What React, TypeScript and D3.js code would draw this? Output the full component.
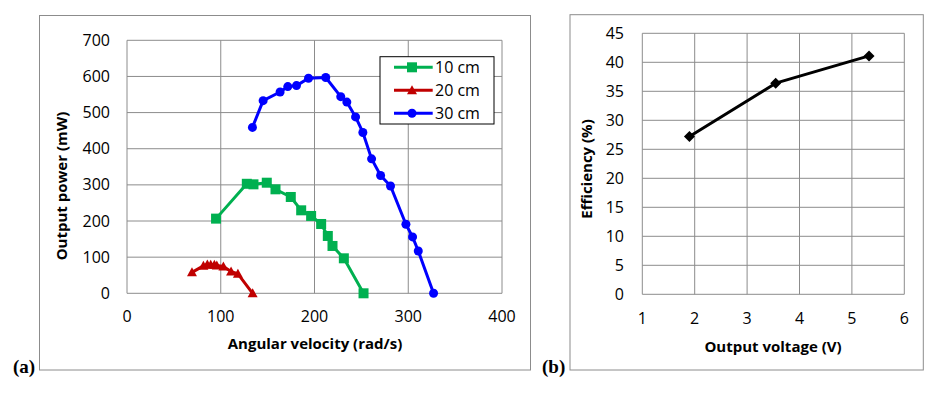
import React from "react";
import * as d3 from "d3";

// ---- Data ----
const seriesNames = ["10 cm", "20 cm", "30 cm"];
const seriesColors = ["#00B050", "#C00000", "#0000FF"];
const seriesMarkers = ["square", "triangle", "circle"];

const speed10 = [95, 127.8, 134.9, 149.1, 158.4, 174.7, 185.8, 196.4, 207.1, 214.2, 219.2, 231.3, 252.3];
const power10 = [206.6, 303, 301.5, 306, 287.7, 266.5, 229.6, 214, 191.8, 158.6, 131, 96.8, 0];

const speed20 = [69.3, 81.5, 85.7, 89.3, 93.2, 95.8, 102.8, 111, 118.3, 134];
const power20 = [58, 76, 80, 79, 79, 77, 74, 60, 54, 0];

const speed30 = [133.8, 145.2, 163.3, 171.5, 180.8, 193.6, 212, 228, 234.5, 243.8, 251.6, 260.9, 270.5, 281.1, 297.5, 304.6, 310.7, 327];
const power30 = [459, 533, 557, 572, 574.6, 595, 597, 544, 529, 488, 445, 372, 326, 297, 191, 156, 117, 0];

const voltage = [1.9, 3.546, 5.327];
const efficiency = [27.2, 36.4, 41.1];

const xTicksA = [0, 100, 200, 300, 400];
const yTicksA = [0, 100, 200, 300, 400, 500, 600, 700];
const xTicksB = [1, 2, 3, 4, 5, 6];
const yTicksB = [0, 5, 10, 15, 20, 25, 30, 35, 40, 45];

const FONT = "'Open Sans', 'DejaVu Sans', sans-serif";
const GRID = "#8c8c8c";

function Marker({ type, x, y, color }: { type: string; x: number; y: number; color: string }) {
  if (type === "square") return <rect x={x - 5} y={y - 5} width={10} height={10} fill={color} />;
  if (type === "triangle") {
    const p = d3.path();
    p.moveTo(x, y - 5);
    p.lineTo(x + 5, y + 4);
    p.lineTo(x - 5, y + 4);
    p.closePath();
    return <path d={p.toString()} fill={color} />;
  }
  if (type === "diamond") {
    const p = d3.path();
    p.moveTo(x, y - 5.5);
    p.lineTo(x + 5.5, y);
    p.lineTo(x, y + 5.5);
    p.lineTo(x - 5.5, y);
    p.closePath();
    return <path d={p.toString()} fill={color} />;
  }
  return <circle cx={x} cy={y} r={4.5} fill={color} />;
}

export default function App() {
  // Chart (a)
  const xA = d3.scaleLinear().domain([0, 400]).range([127, 502]);
  const yA = d3.scaleLinear().domain([0, 700]).range([293.3, 40.3]);
  const seriesA = [
    { xs: speed10, ys: power10 },
    { xs: speed20, ys: power20 },
    { xs: speed30, ys: power30 },
  ];
  const lineA = d3
    .line<[number, number]>()
    .x((d) => xA(d[0]))
    .y((d) => yA(d[1]));

  // Chart (b)
  const xB = d3.scaleLinear().domain([1, 6]).range([642.3, 904.3]);
  const yB = d3.scaleLinear().domain([0, 45]).range([294.3, 33.3]);
  const lineB = d3
    .line<[number, number]>()
    .x((d) => xB(d[0]))
    .y((d) => yB(d[1]));
  const ptsB: [number, number][] = voltage.map((v, i) => [v, efficiency[i]]);

  return (
    <svg
      width={941}
      height={393}
      style={{ position: "absolute", left: 0, top: 0, background: "#fff" }}
      fontFamily={FONT}
    >
      <rect x={0} y={0} width={941} height={393} fill="#fff" />
      {/* Chart (a) frame */}
      <rect x={39.5} y={15.5} width={491} height={354.5} fill="none" stroke={GRID} strokeWidth={1} />
      {/* grid a */}
      {yTicksA.map((t) => (
        <line key={"ya" + t} x1={xA(0)} x2={xA(400)} y1={yA(t)} y2={yA(t)} stroke={GRID} strokeWidth={1} />
      ))}
      {xTicksA.map((t) => (
        <line key={"xa" + t} x1={xA(t)} x2={xA(t)} y1={yA(0)} y2={yA(700)} stroke={GRID} strokeWidth={1} />
      ))}
      {yTicksA.map((t) => (
        <text key={"yta" + t} x={110} y={yA(t) + 5.5} textAnchor="end" fontSize={16} fill="#000">
          {t}
        </text>
      ))}
      {xTicksA.map((t) => (
        <text key={"xta" + t} x={xA(t)} y={322} textAnchor="middle" fontSize={16} fill="#000">
          {t}
        </text>
      ))}
      <text x={315} y={349} textAnchor="middle" fontSize={15} fontWeight="bold" fill="#000">
        Angular velocity (rad/s)
      </text>
      <text
        transform={`translate(67,186) rotate(-90)`}
        textAnchor="middle"
        fontSize={15}
        fontWeight="bold"
        fill="#000"
      >
        Output power (mW)
      </text>
      {/* series a */}
      {seriesA.map((s, i) => {
        const pts: [number, number][] = s.xs.map((x, j) => [x, s.ys[j]]);
        return (
          <g key={"sa" + i}>
            <path d={lineA(pts) || ""} fill="none" stroke={seriesColors[i]} strokeWidth={3} strokeLinejoin="round" />
            {pts.map((p, j) => (
              <Marker key={j} type={seriesMarkers[i]} x={xA(p[0])} y={yA(p[1])} color={seriesColors[i]} />
            ))}
          </g>
        );
      })}
      {/* legend */}
      <rect x={380} y={56.7} width={114} height={67.3} fill="#fff" stroke="#000" strokeWidth={1} />
      {seriesNames.map((n, i) => {
        const ly = 67.3 + i * 23;
        return (
          <g key={"lg" + i}>
            <line x1={394} x2={432.7} y1={ly} y2={ly} stroke={seriesColors[i]} strokeWidth={3} />
            <Marker type={seriesMarkers[i]} x={412} y={ly} color={seriesColors[i]} />
            <text x={435} y={ly + 5.5} fontSize={16} fill="#000">
              {n}
            </text>
          </g>
        );
      })}
      <text x={13} y={373} fontFamily="'Liberation Serif', 'Times New Roman', serif" fontWeight="bold" fontSize={19} fill="#000">
        (a)
      </text>

      {/* Chart (b) frame */}
      <rect x={570} y={14.7} width={353.3} height={355.3} fill="none" stroke={GRID} strokeWidth={1} />
      {yTicksB.map((t) => (
        <line key={"yb" + t} x1={xB(1)} x2={xB(6)} y1={yB(t)} y2={yB(t)} stroke={GRID} strokeWidth={1} />
      ))}
      {xTicksB.map((t) => (
        <line key={"xb" + t} x1={xB(t)} x2={xB(t)} y1={yB(0)} y2={yB(45)} stroke={GRID} strokeWidth={1} />
      ))}
      {yTicksB.map((t) => (
        <text key={"ytb" + t} x={624} y={yB(t) + 5.5} textAnchor="end" fontSize={16} fill="#000">
          {t}
        </text>
      ))}
      {xTicksB.map((t) => (
        <text key={"xtb" + t} x={xB(t)} y={324} textAnchor="middle" fontSize={16} fill="#000">
          {t}
        </text>
      ))}
      <text x={773} y={352} textAnchor="middle" fontSize={15} fontWeight="bold" fill="#000">
        Output voltage (V)
      </text>
      <text
        transform={`translate(592,169) rotate(-90)`}
        textAnchor="middle"
        fontSize={15}
        fontWeight="bold"
        fill="#000"
      >
        Efficiency (%)
      </text>
      <path d={lineB(ptsB) || ""} fill="none" stroke="#000" strokeWidth={3} strokeLinejoin="round" />
      {ptsB.map((p, j) => (
        <Marker key={"mb" + j} type="diamond" x={xB(p[0])} y={yB(p[1])} color="#000" />
      ))}
      <text x={542} y={373} fontFamily="'Liberation Serif', 'Times New Roman', serif" fontWeight="bold" fontSize={19} fill="#000">
        (b)
      </text>
    </svg>
  );
}
